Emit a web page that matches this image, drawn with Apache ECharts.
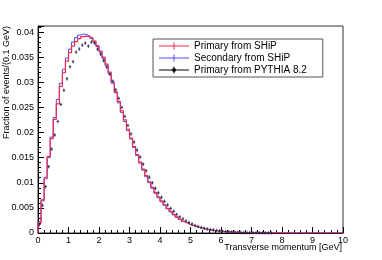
<!DOCTYPE html>
<html><head><meta charset="utf-8">
<script src="https://cdn.jsdelivr.net/npm/echarts@6/dist/echarts.min.js"></script>
<style>html,body{margin:0;padding:0;background:#fff}#c{width:382px;height:260px}</style>
</head><body><div id="c"></div>
<script>
const binWidth = 0.1;
const xMin = 0, xMax = 10, xInterval = 1;
const yMin = 0, yMax = 0.0412, yInterval = 0.005;
const seriesNames = ['Primary from SHiP', 'Secondary from SHiP', 'Primary from PYTHIA 8.2'];
const xTitle = 'Transverse momentum [GeV]';
const yTitle = 'Fraction of events/(0.1 GeV)';

const primarySHiP = [
0.0020,0.0066,0.0108,0.0152,0.0188,0.0226,0.0257,0.0292,0.0319,0.0342,
0.0359,0.0372,0.0381,0.0387,0.0391,0.0392,0.0391,0.0388,0.0382,0.0373,
0.0362,0.0350,0.0336,0.0320,0.0301,0.0281,0.0262,0.0243,0.0225,0.0207,
0.0189,0.0172,0.0156,0.0141,0.0127,0.0114,0.0102,0.0091,0.0081,0.0072,
0.0064,0.0056,0.0049,0.0043,0.0037,0.0032,0.0027,0.0023,0.0020,0.0017,
0.0015,0.0013,0.0011,0.00095,0.0008,0.0007,0.0006,0.0005,0.00042,0.00035,
0.0003,0.00025,0.0002,0.00017,0.00014,0.00012,0.0001,0.00008,0.00007,0.00006,
0.00005,0.00004,0.00004,0.00003,0.00003,0.00002,0.00002,0.00001,0.00001,0,
0,0,0,0,0,0,0,0,0,0,
0,0,0,0,0,0,0,0,0,0];

const secondarySHiP = [
0.0022,0.0064,0.0111,0.0150,0.0191,0.0230,0.0266,0.0298,0.0326,0.0348,
0.0366,0.0380,0.0389,0.0394,0.0396,0.0395,0.0392,0.0387,0.0380,0.0371,
0.0360,0.0347,0.0333,0.0317,0.0298,0.0279,0.0259,0.0240,0.0222,0.0204,
0.0187,0.0170,0.0154,0.0139,0.0125,0.0112,0.0100,0.0089,0.0079,0.0070,
0.0062,0.0055,0.0048,0.0042,0.0036,0.0031,0.0027,0.0023,0.0020,0.0017,
0.0015,0.0013,0.0011,0.00095,0.0008,0.0007,0.0006,0.0005,0.00043,0.00036,
0.0003,0.00026,0.00022,0.00018,0.00015,0.00013,0.00011,0.00009,0.00008,0.00007,
0.00006,0.00005,0.00004,0.00004,0.00003,0.00003,0.00002,0.00002,0.00001,0,
0,0,0,0,0,0,0,0,0,0,
0,0,0,0,0,0,0,0,0,0];

const pythia = [
0.0017,0.0055,0.0092,0.0132,0.0167,0.0195,0.0222,0.0256,0.0284,0.0307,
0.0331,0.0341,0.0360,0.0366,0.0374,0.0378,0.0372,0.0380,0.0378,0.0366,
0.0356,0.0343,0.0330,0.0316,0.0302,0.0285,0.0268,0.0250,0.0232,0.0214,
0.0197,0.0181,0.0165,0.0151,0.0137,0.0124,0.0111,0.0100,0.0089,0.0080,
0.0071,0.0063,0.0056,0.0049,0.0043,0.0037,0.0032,0.0028,0.0024,0.0021,
0.0018,0.0015,0.0013,0.0011,0.00095,0.0008,0.0007,0.0006,0.0005,0.00042,
0.00035,0.0003,0.00025,0.0002,0.00017,0.00014,0.00012,0.0001,0.00008,0.00007,
0.00006,0.00005,0.00004,0.00004,0.00003,0.00003,0.00002,null,null,null,
null,null,null,null,null,null,null,null,null,null,
null,null,null,null,null,null,null,null,null,null];

const RED = '#ee2a4a', BLUE = '#4b4bf5', DARK = '#2a2a58';
const FONT = "'Liberation Sans', Arial, Helvetica, sans-serif";

function histPoints(vals) {
  const pts = [[0, 0]];
  vals.forEach((v, i) => pts.push([+(i * binWidth).toFixed(2), v]));
  pts.push([+(vals.length * binWidth).toFixed(2), vals[vals.length - 1]]);
  return pts;
}
function centerPoints(vals) {
  const pts = [];
  vals.forEach((v, i) => { if (v !== null) pts.push([+((i + 0.5) * binWidth).toFixed(3), v]); });
  return pts;
}

const crossIcon = 'path://M0,3L30,3L30,4L0,4Z M14.5,0L15.5,0L15.5,7L14.5,7Z';
const dotIcon = 'path://M0,3L30,3L30,4L0,4Z M14.5,0L15.5,0L15.5,7L14.5,7Z M13,3.5A2,2 0 1 1 17,3.5A2,2 0 1 1 13,3.5Z';

const chart = echarts.init(document.getElementById('c'), null, {renderer: 'canvas'});
const axisCommon = {
  axisLine: {show: true, onZero: false, lineStyle: {color: '#000', width: 1}},
  axisTick: {show: true, inside: true, length: 6, lineStyle: {color: '#000'}},
  minorTick: {show: true, splitNumber: 5, length: 3, lineStyle: {color: '#000'}},
  splitLine: {show: false},
  minorSplitLine: {show: false}
};
chart.setOption({
  animation: false,
  backgroundColor: '#fff',
  grid: {left: 38, right: 39, top: 26, bottom: 27, show: true, borderColor: '#333', borderWidth: 1, containLabel: false},
  legend: {
    orient: 'vertical', left: 153, top: 39,
    padding: [2, 16, 2, 6], itemGap: 2, itemWidth: 30, itemHeight: 10,
    borderColor: '#555', borderWidth: 1, backgroundColor: '#fff',
    textStyle: {fontFamily: FONT, fontSize: 10, color: '#000'},
    data: [
      {name: seriesNames[0], icon: crossIcon},
      {name: seriesNames[1], icon: crossIcon},
      {name: seriesNames[2], icon: dotIcon, itemStyle: {color: '#000'}}
    ]
  },
  xAxis: Object.assign({
    type: 'value', min: xMin, max: xMax, interval: xInterval,
    axisLabel: {fontFamily: FONT, fontSize: 9, color: '#000', margin: 3}
  }, axisCommon),
  yAxis: Object.assign({
    type: 'value', min: yMin, max: yMax, interval: yInterval,
    axisLabel: {fontFamily: FONT, fontSize: 9, color: '#000', margin: 4,
      formatter: v => Math.abs(v / yInterval - Math.round(v / yInterval)) < 1e-6 ? String(+v.toFixed(4)) : ''}
  }, axisCommon),
  graphic: [
    {type: 'text', x: 342, y: 248, style: {text: xTitle, font: '9px ' + FONT, fill: '#000', align: 'right', verticalAlign: 'middle'}},
    {type: 'text', x: 7, y: 26, rotation: Math.PI / 2, style: {text: yTitle, font: '9px ' + FONT, fill: '#000', align: 'right', verticalAlign: 'middle'}}
  ],
  series: [
    {name: seriesNames[1], type: 'line', step: 'end', showSymbol: false, data: histPoints(secondarySHiP),
      lineStyle: {color: BLUE, width: 1}, itemStyle: {color: BLUE}, z: 2},
    {name: seriesNames[0], type: 'line', step: 'end', showSymbol: false, data: histPoints(primarySHiP),
      lineStyle: {color: RED, width: 1.2}, itemStyle: {color: RED}, z: 3},
    {name: seriesNames[2], type: 'custom', data: centerPoints(pythia), itemStyle: {color: DARK}, z: 4,
      renderItem: function (params, api) {
        const x = api.value(0), y = api.value(1);
        const c = api.coord([x, y]);
        const l = api.coord([x - binWidth / 2.5, y]);
        const r = api.coord([x + binWidth / 2.5, y]);
        return {type: 'group', children: [
          {type: 'line', shape: {x1: l[0], y1: c[1], x2: r[0], y2: c[1]}, style: {stroke: DARK, lineWidth: 0.8}},
          {type: 'line', shape: {x1: c[0], y1: c[1] - 1.8, x2: c[0], y2: c[1] + 1.8}, style: {stroke: DARK, lineWidth: 0.8}},
          {type: 'circle', shape: {cx: c[0], cy: c[1], r: 0.7}, style: {fill: DARK}}
        ]};
      }}
  ]
});
</script></body></html>
